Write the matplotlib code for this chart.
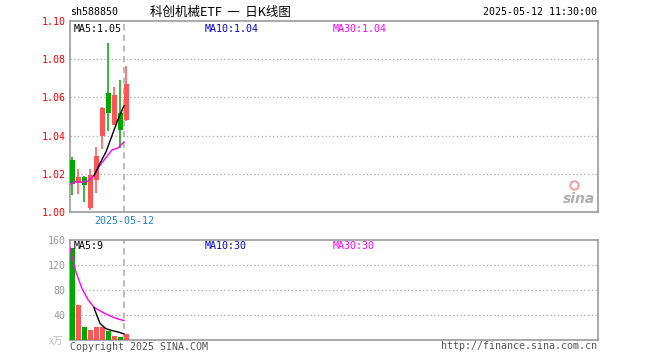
import matplotlib
matplotlib.use("Agg")
import matplotlib.pyplot as plt
import numpy as np

# ---- data ----
opens  = [1.0274, 1.0150, 1.0185, 1.0020, 1.0168, 1.0396, 1.0621, 1.0458, 1.0516, 1.0480]
closes = [1.0145, 1.0185, 1.0140, 1.0195, 1.0295, 1.0547, 1.0519, 1.0611, 1.0428, 1.0670]
highs  = [1.0286, 1.0226, 1.0186, 1.0226, 1.0342, 1.0549, 1.0884, 1.0656, 1.0691, 1.0764]
lows   = [1.0090, 1.0095, 1.0050, 1.0010, 1.0100, 1.0332, 1.0423, 1.0458, 1.0335, 1.0476]
ma5_price  = [None, None, None, None, 1.0190, 1.0255, 1.0315, 1.0400, 1.0485, 1.0556]
ma30_price = [1.0145, 1.0160, 1.0155, 1.0162, 1.0190, 1.0245, 1.0285, 1.0325, 1.0335, 1.0367]
volumes  = [147, 55.5, 19.6, 14.7, 19.6, 19.6, 13.0, 4.9, 3.3, 8.2]
ma5_vol  = [None, None, None, None, 51.0, 25.8, 17.3, 14.4, 12.1, 9.0]
ma30_vol = [147, 108, 82, 64, 52, 46, 41, 36.6, 33, 30.5]
price_ticks = [1.00, 1.02, 1.04, 1.06, 1.08, 1.10]
vol_ticks = [40, 80, 120, 160]
date_label = "2025-05-12"

RED = "#ff5555"
GREEN = "#00a800"
GRAY = "#999999"
MONO = "DejaVu Sans Mono"
FS = 7.2

W, H = 660, 360
fig = plt.figure(figsize=(W / 100, H / 100), dpi=100)

def px_axes(l, t, r, b):
    return fig.add_axes([l / W, 1 - b / H, (r - l) / W, (b - t) / H])

ax = px_axes(70, 21, 598, 212)
axv = px_axes(70, 240, 598, 339.5)

n = len(opens)
x = np.arange(n)
NSLOT = 88
bw = 0.83
xc = x + bw / 2

for a in (ax, axv):
    a.set_xlim(0, NSLOT)
    for s in a.spines.values():
        s.set_color(GRAY)
        s.set_linewidth(1.2)
    a.set_xticks([])
    a.tick_params(axis="y", length=0, pad=3)

# ---- price panel ----
ax.set_ylim(1.00, 1.10)
for v in price_ticks[1:-1]:
    ax.axhline(v, color="#aaaaaa", lw=0.9, ls=(0, (1, 2)), zorder=0)
ax.axvline(9.05, color="#aaaaaa", lw=1.1, ls=(0, (4, 3)), zorder=0)
for i in range(n):
    up = closes[i] >= opens[i]
    c = RED if up else GREEN
    ax.vlines(xc[i], lows[i], highs[i], color=c, lw=1.1, zorder=2)
    lo, hi = min(opens[i], closes[i]), max(opens[i], closes[i])
    ax.bar(x[i], hi - lo, bottom=lo, width=bw, align="edge", color=c, lw=0, zorder=3)

m5x = [xi for xi, v in zip(x, ma5_price) if v is not None]
m5y = [v for v in ma5_price if v is not None]
ax.plot(x, ma30_price, color="#ff00ff", lw=1.0, zorder=4)
ax.plot(m5x, m5y, color="black", lw=1.0, zorder=4)
ax.set_yticks(price_ticks)
ax.set_yticklabels([f"{v:.2f}" for v in price_ticks], color="red", fontsize=FS, family=MONO)

ax.text(4 / 528, 0.985, "MA5:1.05", transform=ax.transAxes, ha="left", va="top",
        fontsize=FS, family=MONO, color="black")
ax.text(135 / 528, 0.985, "MA10:1.04", transform=ax.transAxes, ha="left", va="top",
        fontsize=FS, family=MONO, color="#0000dd")
ax.text(263 / 528, 0.985, "MA30:1.04", transform=ax.transAxes, ha="left", va="top",
        fontsize=FS, family=MONO, color="#ff00ff")

# sina logo imitation
ax.text(0.995, 0.03, "sina", transform=ax.transAxes, ha="right", va="bottom",
        fontsize=10, fontstyle="italic", fontweight="bold", color="#b0b0b0", family="DejaVu Sans")
ax.plot([0.955], [0.14], marker="o", ms=6, mfc="none", mec="#f4a0a0", mew=1.5,
        transform=ax.transAxes)

# ---- volume panel ----
axv.set_ylim(0, 160)
for v in [40, 80, 120]:
    axv.axhline(v, color="#aaaaaa", lw=0.9, ls=(0, (1, 2)), zorder=0)
axv.axvline(9.05, color="#aaaaaa", lw=1.1, ls=(0, (4, 3)), zorder=0)
for i in range(n):
    up = closes[i] >= opens[i]
    axv.bar(x[i], volumes[i], width=bw, align="edge", color=RED if up else GREEN, lw=0, zorder=3)
v5x = [xi for xi, v in zip(x, ma5_vol) if v is not None]
v5y = [v for v in ma5_vol if v is not None]
axv.plot(x, ma30_vol, color="#ff00ff", lw=1.0, zorder=4)
axv.plot(v5x, v5y, color="black", lw=1.0, zorder=4)
axv.set_yticks(vol_ticks)
axv.set_yticklabels([str(v) for v in vol_ticks], color=GRAY, fontsize=FS, family=MONO)
axv.text(4 / 528, 0.985, "MA5:9", transform=axv.transAxes, ha="left", va="top",
         fontsize=FS, family=MONO, color="black")
axv.text(135 / 528, 0.985, "MA10:30", transform=axv.transAxes, ha="left", va="top",
         fontsize=FS, family=MONO, color="#0000dd")
axv.text(263 / 528, 0.985, "MA30:30", transform=axv.transAxes, ha="left", va="top",
         fontsize=FS, family=MONO, color="#ff00ff")

# ---- figure texts ----
def ftext(px, py, s, **kw):
    fig.text(px / W, 1 - py / H, s, **kw)

ftext(70, 12, "sh588850", ha="left", va="center", fontsize=FS, family=MONO, color="black")
ftext(150, 12, "科创机械ETF  一  日K线图", ha="left", va="center", fontsize=9,
      family=["Noto Sans CJK SC", "DejaVu Sans"], color="black")
ftext(597, 12, "2025-05-12 11:30:00", ha="right", va="center", fontsize=FS, family=MONO, color="black")
ftext(124, 221, date_label, ha="center", va="center", fontsize=FS, family=MONO, color="#1a80d0")
ftext(63, 341, "x万", ha="right", va="center", fontsize=7,
      family=["Noto Sans CJK SC", "DejaVu Sans"], color="#bbbbbb")
ftext(70, 347, "Copyright 2025 SINA.COM", ha="left", va="center", fontsize=FS, family=MONO, color="#555555")
ftext(597, 346, "http://finance.sina.com.cn", ha="right", va="center", fontsize=FS, family=MONO, color="#555555")

fig.savefig("out.png", dpi=100)
